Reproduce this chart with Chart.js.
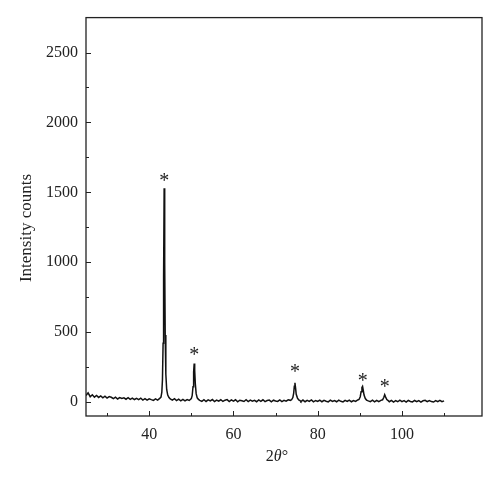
<!DOCTYPE html>
<html>
<head>
<meta charset="utf-8">
<script src="https://cdn.jsdelivr.net/npm/chart.js@4/dist/chart.umd.min.js"></script>
<style>
    html, body { margin: 0; padding: 0; background: #fff; }
    #wrap { width: 500px; height: 483px; }
</style>
</head>
<body>
<div id="wrap"><canvas id="xrd" width="500" height="483"></canvas></div>
<script>
// 2-theta positions (degrees) of the measured pattern
const twoTheta = [
    25, 25.5, 26, 26.5, 27, 27.5, 28, 28.5, 29, 29.5, 30, 30.5, 31, 31.5, 32, 32.5, 33, 33.5,
    34, 34.5, 35, 35.5, 36, 36.5, 37, 37.5, 38, 38.5, 39, 39.5, 40, 40.5, 41, 41.5, 42, 42.5,
    42.8, 43.0, 43.15, 43.3, 43.42, 43.55, 43.68, 43.8, 43.95, 44.15, 44.4, 44.7, 45.0,
    45.5, 46, 46.5, 47, 47.5, 48, 48.5, 49, 49.5, 50,
    50.2, 50.4, 50.55, 50.68, 50.8, 50.95, 51.15, 51.4, 51.7, 52,
    52.5, 53, 53.5, 54, 54.5, 55, 55.5, 56, 56.5, 57, 57.5, 58, 58.5, 59, 59.5, 60, 60.5, 61,
    61.5, 62, 62.5, 63, 63.5, 64, 64.5, 65, 65.5, 66, 66.5, 67, 67.5, 68, 68.5, 69, 69.5, 70,
    70.5, 71, 71.5, 72, 72.5, 73, 73.5,
    73.8, 74.1, 74.3, 74.45, 74.6, 74.75, 74.9, 75.2, 75.5, 75.8,
    76, 76.5, 77, 77.5, 78, 78.5, 79, 79.5, 80, 80.5, 81, 81.5, 82, 82.5, 83, 83.5, 84, 84.5,
    85, 85.5, 86, 86.5, 87, 87.5, 88, 88.5, 89, 89.5,
    89.8, 90.1, 90.3, 90.5, 90.65, 90.8, 91.0, 91.3, 91.6, 92,
    92.5, 93, 93.5, 94, 94.5, 95,
    95.4, 95.7, 95.9, 96.1, 96.4, 96.8,
    97, 97.5, 98, 98.5, 99, 99.5, 100, 100.5, 101, 101.5, 102, 102.5, 103, 103.5, 104, 104.5,
    105, 105.5, 106, 106.5, 107, 107.5, 108, 108.5, 109, 109.5, 110
];

// Intensity counts at each position
const counts = [
    46, 66, 38, 52, 35, 47, 33, 44, 30, 42, 28, 39, 34, 24, 35, 22, 32, 25,
    30, 20, 31, 19, 28, 18, 26, 17, 27, 14, 24, 13, 23, 17, 12, 22, 14, 26,
    35, 70, 160, 420, 900, 1530, 1000, 480, 200, 90, 50, 32, 22,
    14, 24, 10, 20, 9, 19, 8, 18, 11, 24,
    45, 110, 215, 275, 225, 130, 60, 30, 19, 12,
    5, 17, 4, 15, 8, 18, 3, 14, 6, 16, 4, 13, 17, 3, 15, 6, 16, 2,
    13, 9, 4, 16, 3, 14, 6, 12, 2, 15, 5, 16, 3, 11, 14, 2, 13, 7,
    4, 15, 3, 12, 6, 16, 12,
    16, 32, 64, 112, 138, 100, 55, 28, 15, 10,
    3, 14, 2, 12, 5, 15, 1, 11, 4, 14, 2, 12, 6, 1, 13, 4, 11, 2,
    13, 5, 1, 12, 4, 14, 2, 11, 5, 15,
    18, 38, 74, 104, 112, 86, 50, 25, 14, 8,
    3, 13, 1, 12, 3, 12,
    16, 34, 52, 37, 18, 8,
    2, 12, 0, 10, 2, 13, 3, 10, 0, 12, 4, 1, 11, 3, 10, 0,
    9, 12, 2, 10, 3, 0, 10, 3, 12, 2, 8
];

// Peak markers (asterisks) placed above the reflections
const starX = [43.6, 50.7, 74.6, 90.7, 95.9];
const starY = [1610, 365, 240, 178, 133];

// Axis ticks
const xMajorTicks = [40, 60, 80, 100];
const xMinorTicks = [30, 50, 70, 90, 110];
const yMajorTicks = [0, 500, 1000, 1500, 2000, 2500];
const yMinorTicks = [250, 750, 1250, 1750, 2250];

const SERIF = '"Liberation Serif", "DejaVu Serif", serif';
const INK = '#222';

/**
 * Draws the frame, inward tick marks, axis titles and peak asterisks.
 */
const decorPlugin = {
    id: 'decor',
    afterDraw(chart) {
        const { ctx, chartArea: area, scales: { x, y } } = chart;
        ctx.save();

        // frame round the plot
        ctx.strokeStyle = INK;
        ctx.lineWidth = 1.3;
        ctx.strokeRect(area.left, area.top, area.right - area.left, area.bottom - area.top);

        // ticks pointing into the plot
        ctx.lineWidth = 1;
        ctx.beginPath();
        const xTick = (v, len) => {
            const px = Math.round(x.getPixelForValue(v)) + 0.5;
            ctx.moveTo(px, area.bottom);
            ctx.lineTo(px, area.bottom - len);
        };
        const yTick = (v, len) => {
            const py = Math.round(y.getPixelForValue(v)) + 0.5;
            ctx.moveTo(area.left, py);
            ctx.lineTo(area.left + len, py);
        };
        xMajorTicks.forEach(v => xTick(v, 5));
        xMinorTicks.forEach(v => xTick(v, 3));
        yMajorTicks.forEach(v => yTick(v, 5));
        yMinorTicks.forEach(v => yTick(v, 3));
        ctx.stroke();

        // asterisks over the peaks
        ctx.fillStyle = INK;
        ctx.font = '20px ' + SERIF;
        ctx.textAlign = 'center';
        ctx.textBaseline = 'alphabetic';
        const m = ctx.measureText('*');
        const shift = (m.actualBoundingBoxAscent - m.actualBoundingBoxDescent) / 2;
        starX.forEach((sx, i) => {
            ctx.fillText('*', x.getPixelForValue(sx), y.getPixelForValue(starY[i]) + shift);
        });

        // y axis title
        ctx.font = '17px ' + SERIF;
        ctx.textBaseline = 'middle';
        ctx.save();
        ctx.translate(27, 228);
        ctx.rotate(-Math.PI / 2);
        ctx.fillText('Intensity counts', 0, 0);
        ctx.restore();

        // x axis title: 2θ° with italic theta
        const parts = [
            { t: '2', f: '16px ' + SERIF },
            { t: 'θ', f: 'italic 16px ' + SERIF },
            { t: '°', f: '16px ' + SERIF }
        ];
        let total = 0;
        parts.forEach(p => { ctx.font = p.f; p.w = ctx.measureText(p.t).width; total += p.w; });
        let cx = 277 - total / 2;
        ctx.textAlign = 'left';
        parts.forEach(p => {
            ctx.font = p.f;
            ctx.fillText(p.t, cx, 457);
            cx += p.w;
        });

        ctx.restore();
    }
};

function buildChart() {
    const ctx = document.getElementById('xrd');
    const points = twoTheta.map((t, i) => ({ x: t, y: counts[i] }));

    new Chart(ctx, {
        type: 'line',
        data: {
            datasets: [{
                data: points,
                borderColor: '#111',
                borderWidth: 1.5,
                pointRadius: 0,
                tension: 0,
                fill: false
            }]
        },
        options: {
            responsive: false,
            animation: false,
            devicePixelRatio: 1,
            layout: { padding: { left: 0, right: 18, top: 17, bottom: 0 } },
            plugins: {
                legend: { display: false },
                tooltip: { enabled: false }
            },
            scales: {
                x: {
                    type: 'linear',
                    min: 25,
                    max: 119,
                    grid: { display: false, drawTicks: false },
                    border: { display: false },
                    afterBuildTicks: s => { s.ticks = xMajorTicks.map(v => ({ value: v })); },
                    afterFit: s => { s.height = 67; },
                    ticks: {
                        padding: 9,
                        maxRotation: 0,
                        color: INK,
                        font: { family: SERIF, size: 16 },
                        callback: v => String(v)
                    }
                },
                y: {
                    type: 'linear',
                    min: -100,
                    max: 2750,
                    grid: { display: false, drawTicks: false },
                    border: { display: false },
                    afterBuildTicks: s => { s.ticks = yMajorTicks.map(v => ({ value: v })); },
                    afterFit: s => { s.width = 86; },
                    ticks: {
                        padding: 8,
                        color: INK,
                        font: { family: SERIF, size: 16 },
                        callback: v => String(v)
                    }
                }
            }
        },
        plugins: [decorPlugin]
    });
}

document.addEventListener('DOMContentLoaded', buildChart);
</script>
</body>
</html>
